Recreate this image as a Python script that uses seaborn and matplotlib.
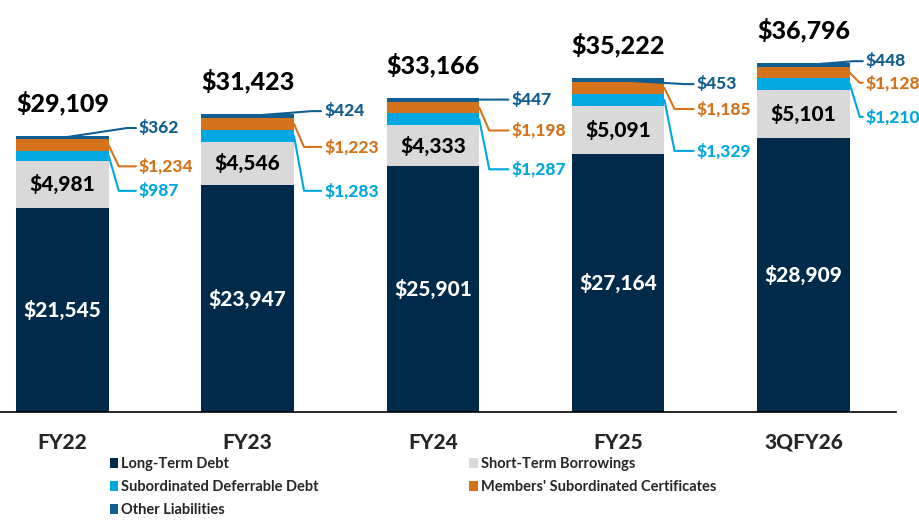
import numpy as np
import pandas as pd
import matplotlib.pyplot as plt
import seaborn as sns

# Values in $ millions
periods = ['FY22', 'FY23', 'FY24', 'FY25', '3QFY26']
long_term = [21545, 23947, 25901, 27164, 28909]
short_term = [4981, 4546, 4333, 5091, 5101]
sub_deferrable = [987, 1283, 1287, 1329, 1210]
members_sub = [1234, 1223, 1198, 1185, 1128]
other_liab = [362, 424, 447, 453, 448]
totals = [29109, 31423, 33166, 35222, 36796]

series = [
    ('Long-Term Debt', long_term, '#002A4A'),
    ('Short-Term Borrowings', short_term, '#D9D9D9'),
    ('Subordinated Deferrable Debt', sub_deferrable, '#00A8E1'),
    ("Members' Subordinated Certificates", members_sub, '#D5731C'),
    ('Other Liabilities', other_liab, '#115E91'),
]

sns.set_theme(style='white')
plt.rcParams['font.family'] = ['Lato', 'DejaVu Sans']

fig = plt.figure(figsize=(9.2, 5.21), dpi=100)
ax = fig.add_axes([0, 1 - 412 / 521, 896 / 920, 412 / 521])

bottom = np.zeros(len(periods))
for name, vals, col in series:
    df = pd.DataFrame({'period': periods, 'value': vals})
    sns.barplot(data=df, x='period', y='value', color=col, width=0.5,
                bottom=bottom, ax=ax, label=name, saturation=1,
                linewidth=0)
    bottom = bottom + np.array(vals)

ax.set_xlim(-0.337, 4.5)
ax.set_ylim(0, 43460)
px_x = 1 / 184.0     # data units per pixel (x)
px_y = 43460 / 412.0  # data units per pixel (y)

# label placement in pixels (vertical offsets, positive = down)
off_other = [-8, -3, 2, 6, -2]
off_members = [21, 23, 23, 21, 10]
off_sub = [35, 55, 50, 51, 33]
gap = [30, 30, 32, 32, 16]
wt = 'black'

for i in range(len(periods)):
    lt, st, sd, ms, ol = long_term[i], short_term[i], sub_deferrable[i], members_sub[i], other_liab[i]
    right = i + 0.25
    tx = right + gap[i] * px_x
    # inner labels
    ax.text(i, lt / 2, f'${lt:,}', ha='center', va='center', color='white',
            fontsize=15, fontweight=wt)
    ax.text(i, lt + st / 2, f'${st:,}', ha='center', va='center', color='black',
            fontsize=15, fontweight=wt)
    # total
    ax.text(i, totals[i] + 33 * px_y, f'${totals[i]:,}', ha='center', va='center',
            color='black', fontsize=18, fontweight=wt)
    # other liabilities
    y0 = lt + st + sd + ms + ol / 2
    ly = totals[i] - off_other[i] * px_y
    ax.plot([i, tx - 12 * px_x, tx - 3 * px_x], [y0, ly, ly], color='#115E91', lw=1.5)
    ax.text(tx, ly, f'${ol:,}', ha='left', va='center', color='#115E91',
            fontsize=12.5, fontweight=wt)
    # members' certificates
    y0 = lt + st + sd + ms / 2
    ly = y0 - off_members[i] * px_y
    ax.plot([right, right + 10 * px_x, tx - 3 * px_x], [y0, ly, ly], color='#D5731C', lw=1.5)
    ax.text(tx, ly, f'${ms:,}', ha='left', va='center', color='#D5731C',
            fontsize=12.5, fontweight=wt)
    # subordinated deferrable
    y0 = lt + st + sd / 2
    ly = y0 - off_sub[i] * px_y
    ax.plot([right, right + 10 * px_x, tx - 3 * px_x], [y0, ly, ly], color='#00A8E1', lw=1.5)
    ax.text(tx, ly, f'${sd:,}', ha='left', va='center', color='#00A8E1',
            fontsize=12.5, fontweight=wt)

for side in ['left', 'right', 'top']:
    ax.spines[side].set_visible(False)
ax.spines['bottom'].set_color('black')
ax.spines['bottom'].set_linewidth(1.2)
ax.set_yticks([])
ax.set_xlabel('')
ax.set_ylabel('')
ax.set_xticks(np.arange(len(periods)))
ax.set_xticklabels(periods, fontsize=15, fontweight=wt)
ax.tick_params(axis='x', length=0, pad=15)
# category separator ticks
ax.set_xticks(np.arange(len(periods)) + 0.5, minor=True)
ax.tick_params(axis='x', which='minor', length=8, width=1, color='black', direction='out')

handles, labels = ax.get_legend_handles_labels()
if ax.get_legend() is not None:
    ax.get_legend().remove()
order = [0, 2, 4, 1, 3]
fig.legend([handles[k] for k in order], [labels[k] for k in order], ncol=2,
           loc='lower left', bbox_to_anchor=(0.105, -0.018), frameon=False,
           prop={'size': 10.5, 'weight': 'bold'}, handlelength=0.6,
           handleheight=0.6, handletextpad=0.2, columnspacing=10.3,
           labelspacing=0.62)

fig.savefig('out.png', dpi=100)
